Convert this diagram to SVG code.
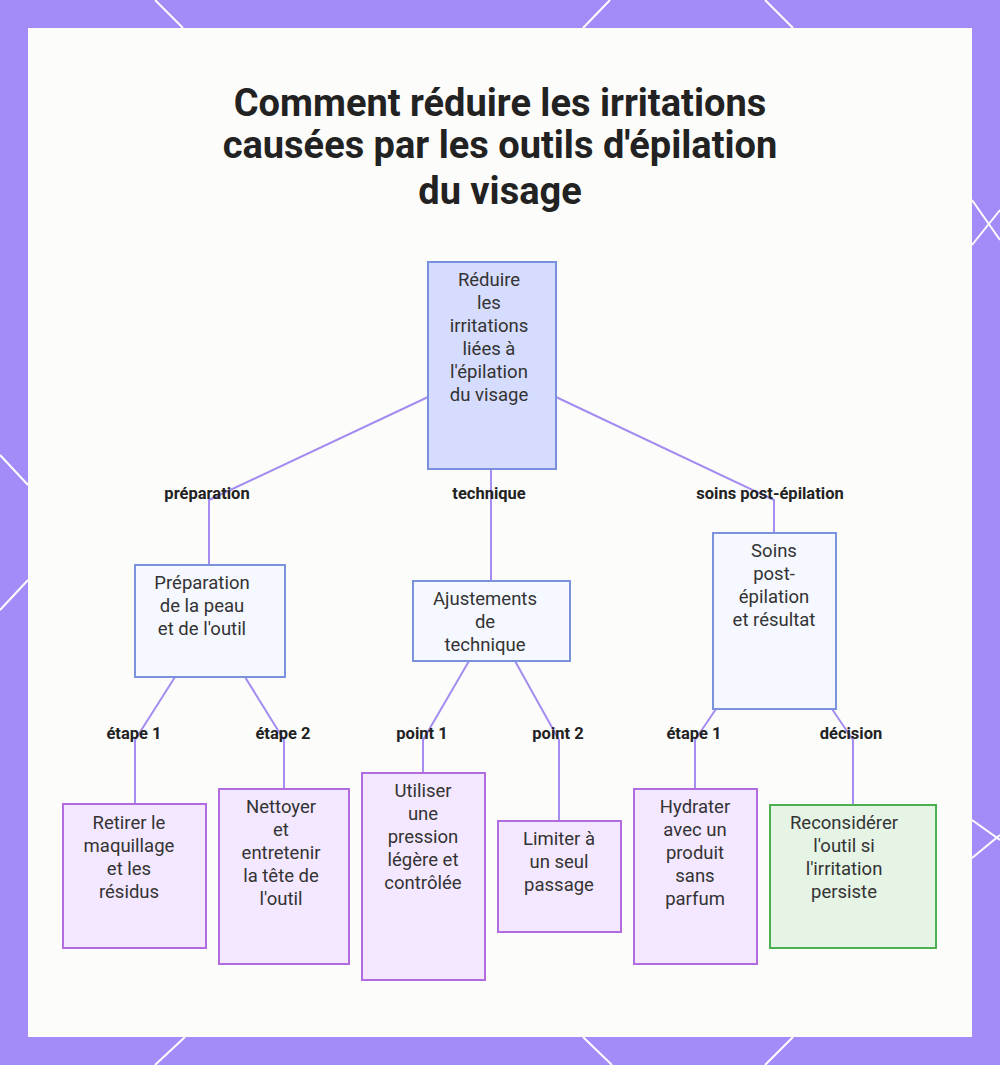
<svg xmlns="http://www.w3.org/2000/svg" width="1000" height="1065" viewBox="0 0 1000 1065">
<style>
.t{font-family:Roboto,"Liberation Sans",sans-serif;font-size:18.5px;fill:#333;text-anchor:middle}
.l{font-family:Roboto,"Liberation Sans",sans-serif;font-size:16.5px;font-weight:bold;fill:#222;text-anchor:middle}
.h{font-family:Roboto,"Liberation Sans",sans-serif;font-size:38px;font-weight:bold;fill:#222;text-anchor:middle}
.b{fill:#f5f8ff;stroke:#7b93dd;stroke-width:2}
.p{fill:#f3e8ff;stroke:#b36ce0;stroke-width:2}
.c{fill:none;stroke:#a48cf0;stroke-width:2}
.w{stroke:#fff;stroke-width:2}
</style>
<rect width="1000" height="1065" fill="#a48cf8"/>
<g class="w"><line x1="155" y1="0" x2="183" y2="28"/><line x1="583" y1="28" x2="610" y2="0"/><line x1="765" y1="0" x2="793" y2="28"/><line x1="972" y1="200" x2="1000" y2="240"/><line x1="972" y1="245" x2="1000" y2="210"/><line x1="0" y1="455" x2="28" y2="485"/><line x1="0" y1="610" x2="28" y2="580"/><line x1="972" y1="820" x2="1000" y2="840"/><line x1="972" y1="858" x2="1000" y2="835"/><line x1="155" y1="1065" x2="185" y2="1037"/><line x1="583" y1="1037" x2="612" y2="1065"/><line x1="765" y1="1065" x2="793" y2="1037"/></g>
<rect x="28" y="28" width="944" height="1009" fill="#fcfcfb"/>
<text class="h" x="500" y="116">Comment réduire les irritations</text>
<text class="h" x="500" y="158">causées par les outils d'épilation</text>
<text class="h" x="500" y="204">du visage</text>
<g id="connectors">
<polyline class="c" points="428,397 209,500 209,565"/>
<polyline class="c" points="491,469 491,581"/>
<polyline class="c" points="556,397 774,500 774,533"/>
<polyline class="c" points="175,677 135,740 135,804"/>
<polyline class="c" points="245,677 284,740 284,789"/>
<polyline class="c" points="469,661 423,740 423,773"/>
<polyline class="c" points="515,661 559,740 559,821"/>
<polyline class="c" points="716,709 695,740 695,789"/>
<polyline class="c" points="832,709 853,740 853,805"/>
<text class="l" x="207" y="499">préparation</text>
<text class="l" x="489" y="499">technique</text>
<text class="l" x="770" y="499">soins post-épilation</text>
<text class="l" x="134" y="739">étape 1</text>
<text class="l" x="283" y="739">étape 2</text>
<text class="l" x="422" y="739">point 1</text>
<text class="l" x="558" y="739">point 2</text>
<text class="l" x="694" y="739">étape 1</text>
<text class="l" x="851" y="739">décision</text>
</g>
<g id="root"><rect x="428" y="262" width="128" height="207" fill="#d6dcfd" stroke="#7b8fe0" stroke-width="2"/>
<text class="t"><tspan x="489" y="286">Réduire</tspan><tspan x="489" y="309">les</tspan><tspan x="489" y="332">irritations</tspan><tspan x="489" y="355">liées à</tspan><tspan x="489" y="378">l'épilation</tspan><tspan x="489" y="401">du visage</tspan></text></g>
<g id="prep"><rect class="b" x="135" y="565" width="150" height="112"/>
<text class="t"><tspan x="202" y="589">Préparation</tspan><tspan x="202" y="612">de la peau</tspan><tspan x="202" y="635">et de l'outil</tspan></text></g>
<g id="ajust"><rect class="b" x="413" y="581" width="157" height="80"/>
<text class="t"><tspan x="485" y="605">Ajustements</tspan><tspan x="485" y="628">de</tspan><tspan x="485" y="651">technique</tspan></text></g>
<g id="soins"><rect class="b" x="713" y="533" width="123" height="176"/>
<text class="t"><tspan x="774" y="557">Soins</tspan><tspan x="774" y="580">post-</tspan><tspan x="774" y="603">épilation</tspan><tspan x="774" y="626">et résultat</tspan></text></g>
<g id="retirer"><rect class="p" x="63" y="804" width="143" height="144"/>
<text class="t"><tspan x="129" y="829">Retirer le</tspan><tspan x="129" y="852">maquillage</tspan><tspan x="129" y="875">et les</tspan><tspan x="129" y="898">résidus</tspan></text></g>
<g id="nettoyer"><rect class="p" x="219" y="789" width="130" height="175"/>
<text class="t"><tspan x="281" y="813">Nettoyer</tspan><tspan x="281" y="836">et</tspan><tspan x="281" y="859">entretenir</tspan><tspan x="281" y="882">la tête de</tspan><tspan x="281" y="905">l'outil</tspan></text></g>
<g id="utiliser"><rect class="p" x="362" y="773" width="123" height="207"/>
<text class="t"><tspan x="423" y="797">Utiliser</tspan><tspan x="423" y="820">une</tspan><tspan x="423" y="843">pression</tspan><tspan x="423" y="866">légère et</tspan><tspan x="423" y="889">contrôlée</tspan></text></g>
<g id="limiter"><rect class="p" x="498" y="821" width="123" height="111"/>
<text class="t"><tspan x="559" y="845">Limiter à</tspan><tspan x="559" y="868">un seul</tspan><tspan x="559" y="891">passage</tspan></text></g>
<g id="hydrater"><rect class="p" x="634" y="789" width="123" height="175"/>
<text class="t"><tspan x="695" y="813">Hydrater</tspan><tspan x="695" y="836">avec un</tspan><tspan x="695" y="859">produit</tspan><tspan x="695" y="882">sans</tspan><tspan x="695" y="905">parfum</tspan></text></g>
<g id="reconsiderer"><rect x="770" y="805" width="166" height="143" fill="#e6f4e6" stroke="#4caf50" stroke-width="2"/>
<text class="t"><tspan x="844" y="829">Reconsidérer</tspan><tspan x="844" y="852">l'outil si</tspan><tspan x="844" y="875">l'irritation</tspan><tspan x="844" y="898">persiste</tspan></text></g>
</svg>
